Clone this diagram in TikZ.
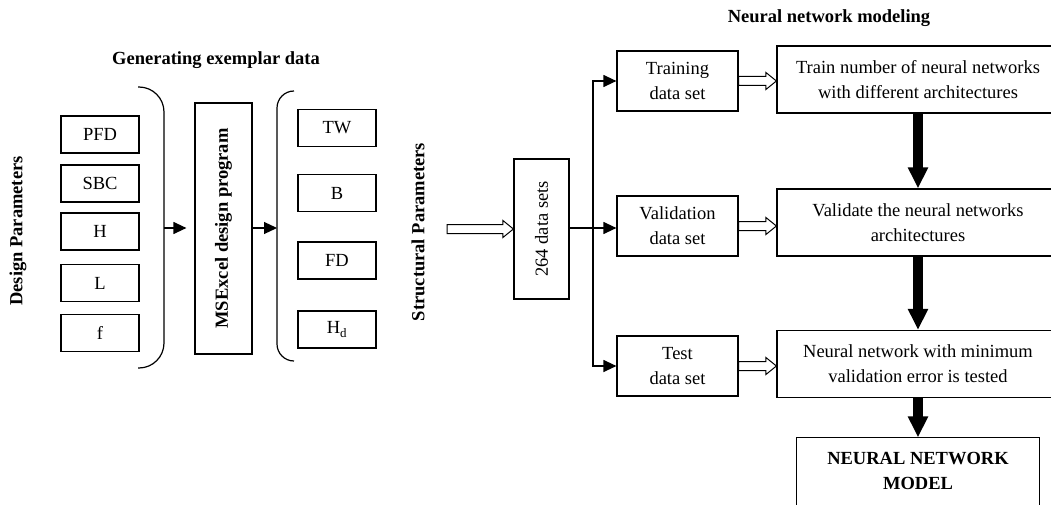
\documentclass[tikz,border=0pt]{standalone}
\usepackage{fontspec}
\setmainfont{Liberation Serif}
\usepackage{tikz}
\usetikzlibrary{arrows.meta,calc}

\begin{document}
\begin{tikzpicture}[x=1pt,y=-1pt,>={Triangle[length=13pt,width=12pt]},
  font=\fontsize{18.5}{25}\selectfont,line width=1.2pt,
  pbox/.style={draw,minimum width=78pt,minimum height=37pt,inner sep=0pt},
  dbox/.style={draw,align=center,minimum width=121pt,minimum height=60pt,inner sep=0pt},
  nbox/.style={draw,align=center,minimum width=282pt,minimum height=67pt,inner sep=0pt},
  vbox/.style={draw,rotate=90,inner sep=0pt},
  ttl/.style={font=\fontsize{18.5}{25}\selectfont\bfseries},
  thick arrow/.style={line width=10.5pt,-{Triangle[length=21pt,width=19pt]}},
  hollow/.style={line width=1pt,to path={let \p1=(\tikztostart),\p2=(\tikztotarget) in
    (\x1,\y1-4.5pt) -- (\x2-10.5pt,\y1-4.5pt) -- (\x2-10.5pt,\y1-8.5pt) -- (\x2,\y1)
    -- (\x2-10.5pt,\y1+8.5pt) -- (\x2-10.5pt,\y1+4.5pt) -- (\x1,\y1+4.5pt) -- cycle}}]
\useasboundingbox (0,0) rectangle (1051,505);

% generating exemplar data
\node[ttl] (gentitle) at (216,60) {Generating exemplar data};
\node[ttl,rotate=90] (designlbl) at (18,231) {Design Parameters};
\node[pbox] (pfd) at (100,134.5) {PFD};
\node[pbox] (sbc) at (100,183.5) {SBC};
\node[pbox] (h) at (100,231.5) {H};
\node[pbox] (l) at (100,283) {L};
\node[pbox] (f) at (100,333) {f};
\draw[rounded corners=25pt] (138,87) -- (164,87) -- (164,368) -- (138,368);
\coordinate (brL) at (164,228);
\node[vbox,minimum width=251pt,minimum height=57pt,ttl] (prog) at (223.5,228.5) {MSExcel design program};
\draw[rounded corners=17pt] (294,91) -- (277,91) -- (277,361) -- (294,361);
\coordinate (brR) at (277,228);
\node[pbox] (tw) at (337,128) {TW};
\node[pbox] (b) at (337,193) {B};
\node[pbox] (fd) at (337,260.5) {FD};
\node[pbox] (hd) at (337,329.5) {H\textsubscript{d}};
% rotated boxes: north is the left side, south the right side
\draw[->,shorten >=8pt] (brL) -- (prog.north |- brL);
\draw[->] (prog.south |- brR) -- (brR);

% data sets
\node[ttl,rotate=90] (structlbl) at (418,232) {Structural Parameters};
\node[vbox,minimum width=140pt,minimum height=55pt] (ds) at (541.5,229) {264 data sets};
\coordinate (sp) at (447,229);
\draw[hollow] (sp) to (ds.north |- sp);
\node[dbox] (train) at (677.5,81) {Training\\data set};
\node[dbox] (valid) at (677.5,226) {Validation\\data set};
\node[dbox] (test) at (677.5,366) {Test\\data set};
\coordinate (fork) at (593,228);
\draw (ds.south |- fork) -- (fork);
\draw[->] (fork) |- (train.west);
\draw[->] (fork) -- (valid.west |- fork);
\draw[->] (fork) |- (test.west);

% neural network modeling
\node[ttl] (nntitle) at (829,18) {Neural network modeling};
\node[nbox] (trainnn) at (918,79.5) {Train number of neural networks\\with different architectures};
\node[nbox] (validnn) at (918,222.5) {Validate the neural networks\\architectures};
\node[nbox] (testnn) at (918,364) {Neural network with minimum\\validation error is tested};
\node[align=center,ttl,minimum width=242pt,minimum height=66pt,inner sep=0pt] (model) at (918,471) {NEURAL NETWORK\\MODEL};
\draw (model.south west) -- (model.north west) -- (model.north east) -- (model.south east);
\draw[hollow] (train.east) to (train.east -| trainnn.west);
\draw[hollow] (valid.east) to (valid.east -| validnn.west);
\draw[hollow] (test.east) to (test.east -| testnn.west);
\draw[thick arrow] (trainnn) -- (validnn);
\draw[thick arrow] (validnn) -- (testnn);
\draw[thick arrow] (testnn) -- (model);
\end{tikzpicture}
\end{document}
